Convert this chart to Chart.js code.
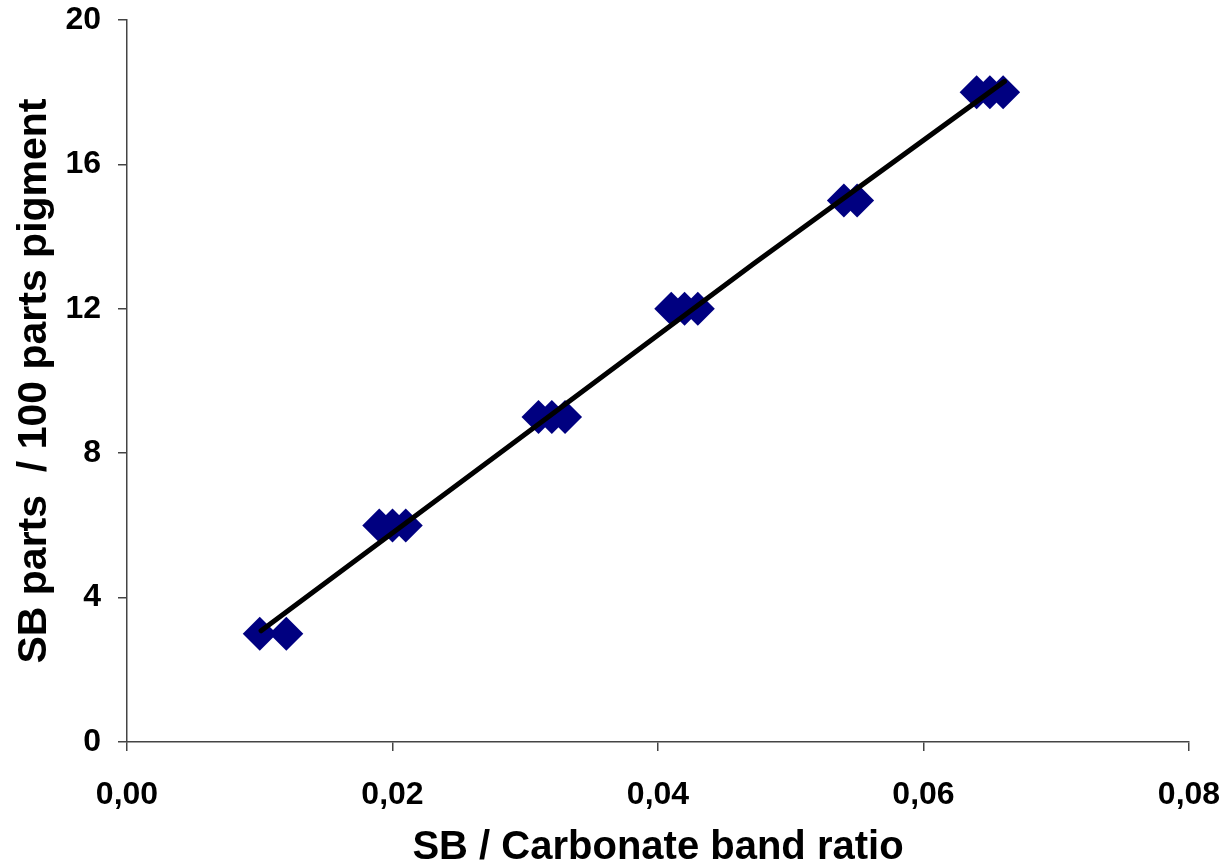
<!DOCTYPE html>
<html>
<head>
<meta charset="utf-8">
<script src="https://cdn.jsdelivr.net/npm/chart.js@4"></script>
<style>
html,body{margin:0;padding:0;background:#fff;}
#wrap{width:1226px;height:867px;}
</style>
</head>
<body>
<div id="wrap"><canvas id="c" width="1226" height="867"></canvas></div>
<script>
const ratioX = [0.010, 0.012, 0.019, 0.020, 0.021, 0.031, 0.032, 0.033, 0.041, 0.042, 0.043, 0.054, 0.055, 0.064, 0.065, 0.066];
const partsY = [3, 3, 6, 6, 6, 9, 9, 9, 12, 12, 12, 15, 15, 18, 18, 18];
const trendX = [0.0101, 0.0288, 0.0472, 0.0661];
const trendY = [3.08, 8.2, 13.25, 18.3];
const xTickLabels = ['0,00', '0,02', '0,04', '0,06', '0,08'];
const yTickLabels = ['0', '4', '8', '12', '16', '20'];
const xTitle = 'SB / Carbonate band ratio';
const yTitle = 'SB parts  / 100 parts pigment';

const pts = ratioX.map((x, i) => ({x: x, y: partsY[i]}));
const trend = trendX.map((x, i) => ({x: x, y: trendY[i]}));
const FONT = "'Liberation Sans', Arial, sans-serif";
const axisColor = '#444';

new Chart(document.getElementById('c'), {
  type: 'scatter',
  data: {
    datasets: [
      {
        type: 'line', data: trend, borderColor: '#000', borderWidth: 5,
        pointRadius: 0, showLine: true, tension: 0, fill: false, borderCapStyle: 'round'
      },
      {
        data: pts, pointStyle: 'rectRot', pointRadius: 17, pointHoverRadius: 17,
        backgroundColor: '#000080', borderColor: '#000080', borderWidth: 0
      }
    ]
  },
  options: {
    responsive: false,
    animation: false,
    devicePixelRatio: 1,
    layout: {padding: {top: 20, right: 37, bottom: 0, left: 0}},
    plugins: {legend: {display: false}, tooltip: {enabled: false}},
    scales: {
      x: {
        type: 'linear', min: 0, max: 0.08,
        afterFit: s => { s.height = 125; s.paddingLeft = 0; s.paddingRight = 0; },
        border: {display: true, color: axisColor, width: 1.5},
        grid: {display: true, drawOnChartArea: false, drawTicks: true, tickLength: 9, color: axisColor, lineWidth: 1.5},
        ticks: {
          stepSize: 0.02, padding: 25, color: '#000', maxRotation: 0,
          font: {family: FONT, size: 32, weight: 'bold'},
          callback: (v) => xTickLabels[Math.round(v / 0.02)]
        },
        title: {display: true, text: xTitle, color: '#000', padding: {top: 0, bottom: -5},
          font: {family: FONT, size: 40, weight: 'bold'}}
      },
      y: {
        type: 'linear', min: 0, max: 20,
        afterFit: s => { s.width = 127; s.paddingTop = 0; s.paddingBottom = 0; },
        border: {display: true, color: axisColor, width: 1.5},
        grid: {display: true, drawOnChartArea: false, drawTicks: true, tickLength: 9, color: axisColor, lineWidth: 1.5},
        ticks: {
          stepSize: 4, padding: 17, color: '#000',
          font: {family: FONT, size: 32, weight: 'bold'},
          callback: (v) => yTickLabels[Math.round(v / 4)]
        },
        title: {display: true, text: yTitle, color: '#000', padding: {top: 10, bottom: 0},
          font: {family: FONT, size: 41, weight: 'bold'}}
      }
    }
  }
});
</script>
</body>
</html>
